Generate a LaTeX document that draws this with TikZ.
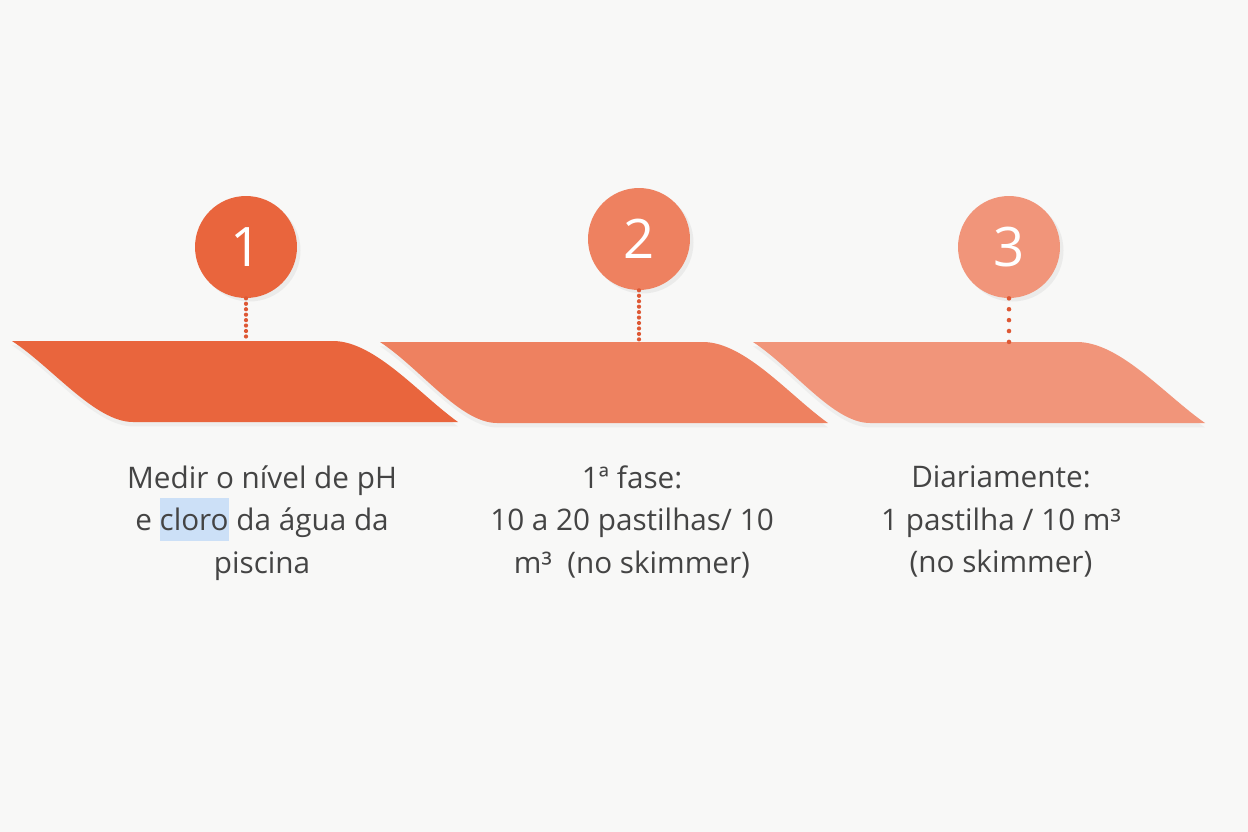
\documentclass[tikz,border=0pt]{standalone}
\usepackage{fontspec}
\setmainfont{Open Sans}
\usetikzlibrary{shadows}
\definecolor{bgcol}{HTML}{F8F8F7}
\definecolor{bandA}{HTML}{E9653D}
\definecolor{bandB}{HTML}{EE8160}
\definecolor{bandC}{HTML}{F1957A}
\definecolor{dotcol}{HTML}{DE5834}
\definecolor{txtgray}{HTML}{444444}
\definecolor{selblue}{HTML}{CCE0F7}
\setlength{\fboxsep}{0pt}
\begin{document}
\begin{tikzpicture}[x=0.02cm, y=-0.02cm,
  stepnum/.style={circle, minimum size=2.04cm, inner sep=0, text=white,
    font=\fontsize{31}{31}\selectfont,
    drop shadow={opacity=0.10, shadow xshift=2pt, shadow yshift=-2pt}},
  bandshadow/.style={drop shadow={opacity=0.08, shadow xshift=0pt, shadow yshift=-2.5pt}},
  stepdesc/.style={anchor=north, align=center, inner sep=0, text=txtgray,
    font=\fontsize{16.9}{24.4}\selectfont},
  dotline/.style={dotcol, line width=2.4pt, line cap=round, dash pattern=on 0pt off 3.1pt},
  dotwide/.style={dotcol, line width=2.6pt, line cap=round, dash pattern=on 0pt off 6.2pt}]
\fill[bgcol] (0,0) rectangle (1248,832);
% bands
\fill[bandA, bandshadow] (12,341) -- (333,341) .. controls (375,341) and (420,395) .. (458,422)
  -- (133,422) .. controls (95,422) and (52,367) .. (12,341) -- cycle;
\fill[bandB, bandshadow] (380,342) -- (703,342) .. controls (745,342) and (790,396) .. (828,423)
  -- (497,423) .. controls (460,423) and (420,368) .. (380,342) -- cycle;
\fill[bandC, bandshadow] (753,342) -- (1077,342) .. controls (1120,342) and (1166,396) .. (1205,423)
  -- (870,423) .. controls (833,423) and (793,368) .. (753,342) -- cycle;
\coordinate (t1) at (246,341);
\coordinate (t2) at (639,342);
\coordinate (t3) at (1009,342);
% numbers
\node[stepnum, fill=bandA] (c1) at (246,247) {1};
\node[stepnum, fill=bandB] (c2) at (639,239) {2};
\node[stepnum, fill=bandC] (c3) at (1009,247) {3};
\draw[dotline] (c1) -- (t1);
\draw[dotline] (c2) -- (t2);
\draw[dotwide] (c3) -- (t3);
% texts
\node[stepdesc] (d1) at (262,465) {Medir o nível de pH\\e \colorbox{selblue}{\rule[-5.7pt]{0pt}{24.4pt}cloro} da água da\\piscina};
\node[stepdesc] (d2) at (632,465) {1ª fase:\\10 a 20 pastilhas/ 10\\m³~ (no skimmer)};
\node[stepdesc] (d3) at (1001,465) {Diariamente:\\1 pastilha / 10 m³\\(no skimmer)};
\end{tikzpicture}
\end{document}
